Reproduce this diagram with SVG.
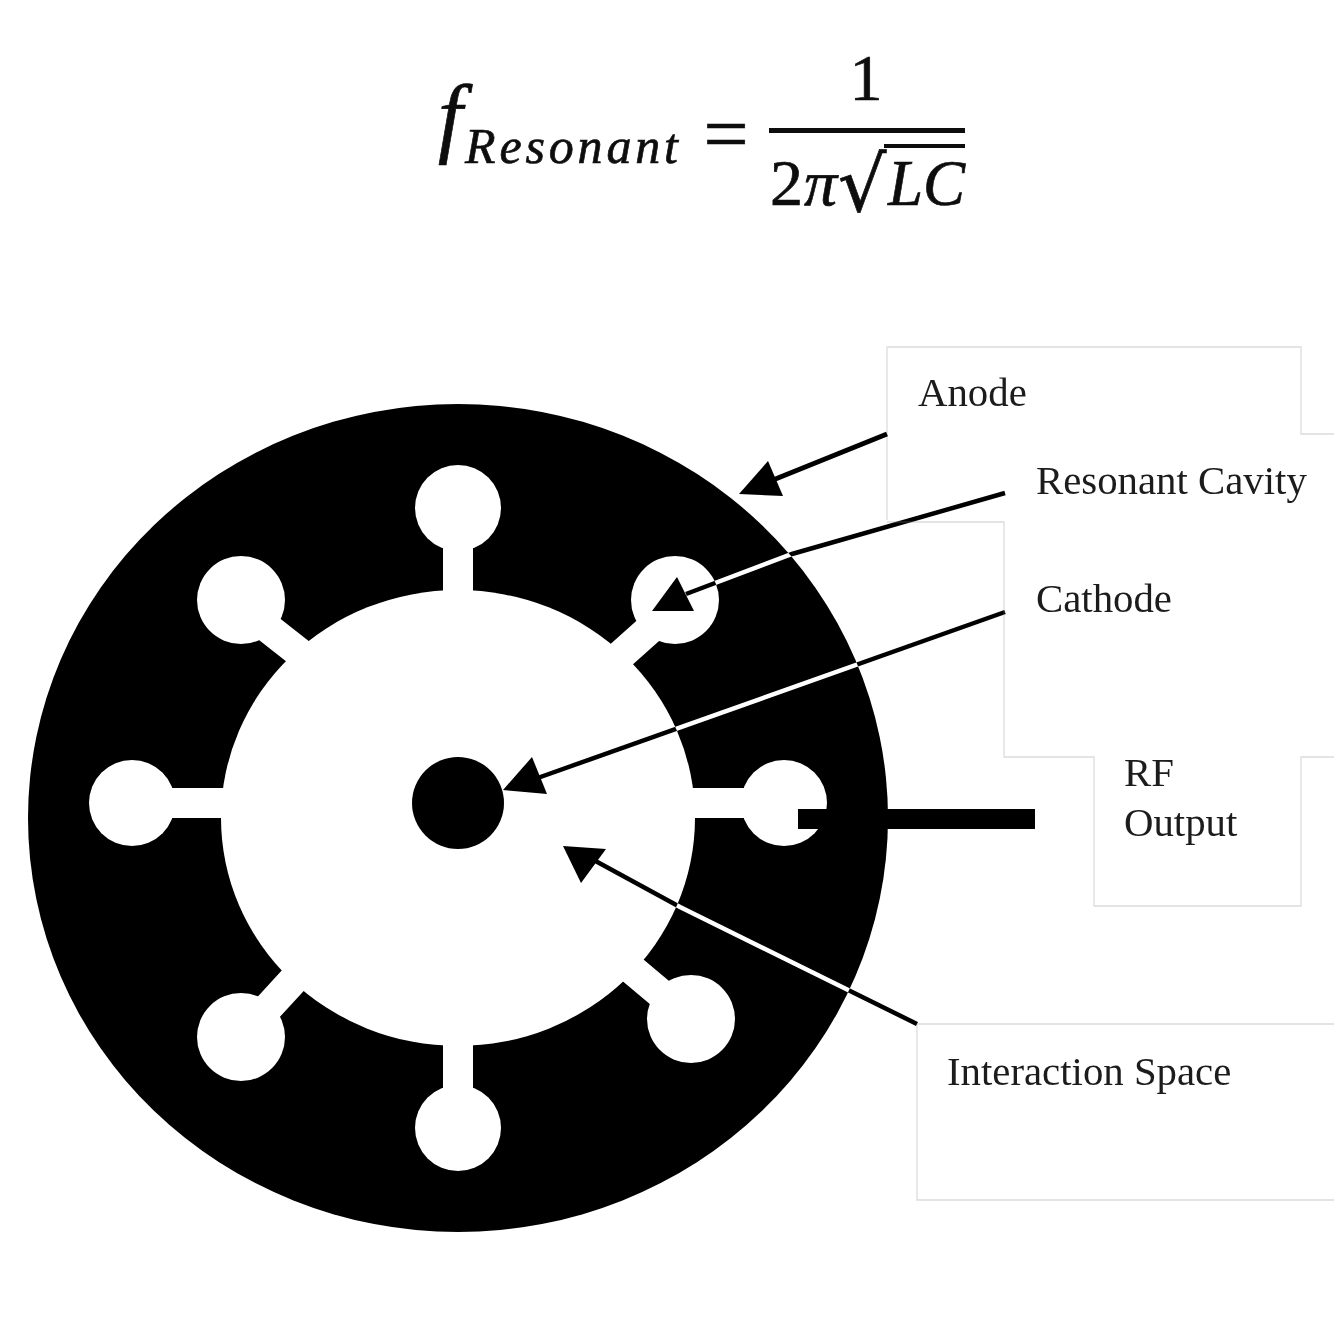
<svg xmlns="http://www.w3.org/2000/svg" width="1334" height="1334" viewBox="0 0 1334 1334">
<defs>
<style>
.lbl{font-family:"Liberation Serif","Times New Roman",serif;font-size:40.8px;fill:#1a1a1a}
.eq{font-family:"Liberation Serif","Times New Roman",serif;fill:#111;stroke:#111;stroke-width:.7}
.it{font-style:italic}
.box{fill:none;stroke:#dcdcdc;stroke-width:1.3}
.slot{stroke:#fff;stroke-width:30;fill:none}
.cav{fill:#fff}
.diff{stroke:#fff;stroke-width:4.5;fill:none;mix-blend-mode:difference}
.head{fill:#000}
</style>
<filter id="soft" x="0" y="0" width="1" height="1" filterUnits="objectBoundingBox"><feGaussianBlur stdDeviation="0.7"/></filter>
</defs>
<g filter="url(#soft)">
<rect width="1334" height="1334" fill="#fff"/>
<g id="equation">
<text class="eq it" x="438" y="146" font-size="88">f</text>
<text class="eq it" x="465" y="163" font-size="50" textLength="213" lengthAdjust="spacing">Resonant</text>
<text class="eq" x="726" y="161" font-size="80" text-anchor="middle">=</text>
<text class="eq" x="866" y="100" font-size="66" text-anchor="middle">1</text>
<rect x="769" y="128" width="196" height="5" fill="#111"/>
<text class="eq" x="770" y="205" font-size="66">2</text>
<text class="eq it" x="804" y="205" font-size="66">π</text>
<text class="eq" x="838" y="211" font-size="76" style="font-family:'DejaVu Sans',sans-serif">√</text>
<rect x="884" y="144" width="81" height="4" fill="#111"/>
<text class="eq it" x="888" y="205" font-size="66" textLength="77" lengthAdjust="spacingAndGlyphs">LC</text>
</g>
<g id="anode">
<ellipse cx="458" cy="818" rx="430" ry="414" fill="#000"/>
</g>
<g id="resonant-cavities">
<path class="slot" d="M458 508V610M458 1128V1030M132 803H240M784 803H680M245 610L315 665M679 603L604 670M241 1037L309 963M691 1019L610 951"/>
<circle class="cav" cx="458" cy="508" r="43"/>
<circle class="cav" cx="458" cy="1128" r="43"/>
<circle class="cav" cx="132" cy="803" r="43"/>
<circle class="cav" cx="784" cy="803" r="43"/>
<circle class="cav" cx="241" cy="600" r="44"/>
<circle class="cav" cx="675" cy="600" r="44"/>
<circle class="cav" cx="241" cy="1037" r="44"/>
<circle class="cav" cx="691" cy="1019" r="44"/>
</g>
<g id="interaction-space">
<ellipse cx="458" cy="818" rx="237" ry="228" fill="#fff"/>
</g>
<g id="cathode">
<circle cx="458" cy="803" r="46" fill="#000"/>
</g>
<g id="rf-output">
<rect x="798" y="809" width="237" height="20" fill="#000"/>
</g>
<g id="label-boxes">
<path class="box" d="M887 520V347H1301V434H1334"/>
<path class="box" d="M887 522H1004V757H1094V906H1301V757H1334"/>
<path class="box" d="M1334 1024H917V1200H1334"/>
</g>
<g id="connectors">
<path d="M887 434L768 482" stroke="#000" stroke-width="5" fill="none"/>
<path class="diff" d="M1005 493L792 554L686 594"/>
<path class="diff" d="M1005 612L532 780"/>
<path class="diff" d="M917 1024L680 907L590 858"/>
<polygon class="head" points="739,494 768,461 783,496"/>
<polygon class="head" points="652,611 677,577 694,611"/>
<polygon class="head" points="503,790 532,757 547,794"/>
<polygon class="head" points="563,846 606,849 581,883"/>
</g>
<g id="labels">
<text class="lbl" x="918" y="406">Anode</text>
<text class="lbl" x="1036" y="494">Resonant Cavity</text>
<text class="lbl" x="1036" y="612">Cathode</text>
<text class="lbl" x="1124" y="786">RF</text>
<text class="lbl" x="1124" y="836">Output</text>
<text class="lbl" x="947" y="1085">Interaction Space</text>
</g>
</g>
</svg>
